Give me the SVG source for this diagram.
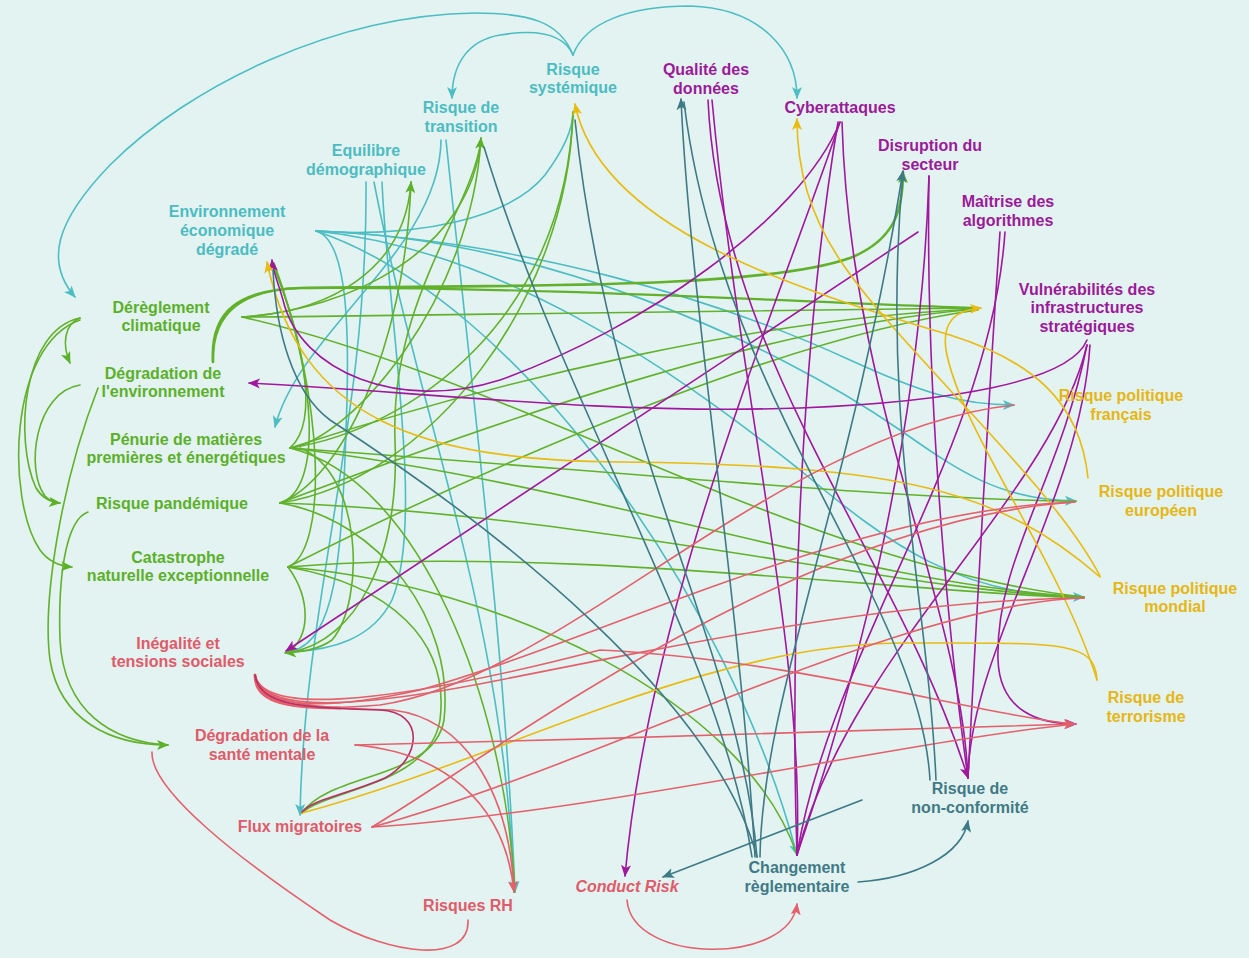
<svg xmlns="http://www.w3.org/2000/svg" width="1249" height="958" viewBox="0 0 1249 958">
<defs>
<style>
.c path{fill:none;stroke-width:1.6;stroke-linecap:round}
.t{stroke:#4dbdc4}.g{stroke:#62b12c}.p{stroke:#a0189e}.y{stroke:#e9ba10}.r{stroke:#e3606c}.s{stroke:#3e7a86}
text{font-family:"Liberation Sans",Arial,sans-serif;font-weight:bold;font-size:16px;text-anchor:middle}
.tt{fill:#4cbcc2}.tg{fill:#5bb02a}.tp{fill:#9c1a9a}.ty{fill:#e6b614}.tr{fill:#e05a6a}.ts{fill:#3f7a86}
</style>
<marker id="mt" viewBox="0 0 12 12" refX="11" refY="6" markerWidth="12" markerHeight="12" markerUnits="userSpaceOnUse" orient="auto"><path d="M0,1 L12,6 L0,11 L3,6 z" fill="#4dbdc4"/></marker>
<marker id="mg" viewBox="0 0 12 12" refX="11" refY="6" markerWidth="12" markerHeight="12" markerUnits="userSpaceOnUse" orient="auto"><path d="M0,1 L12,6 L0,11 L3,6 z" fill="#5bb02a"/></marker>
<marker id="mp" viewBox="0 0 12 12" refX="11" refY="6" markerWidth="12" markerHeight="12" markerUnits="userSpaceOnUse" orient="auto"><path d="M0,1 L12,6 L0,11 L3,6 z" fill="#a0189e"/></marker>
<marker id="my" viewBox="0 0 12 12" refX="11" refY="6" markerWidth="12" markerHeight="12" markerUnits="userSpaceOnUse" orient="auto"><path d="M0,1 L12,6 L0,11 L3,6 z" fill="#e9ba10"/></marker>
<marker id="mr" viewBox="0 0 12 12" refX="11" refY="6" markerWidth="12" markerHeight="12" markerUnits="userSpaceOnUse" orient="auto"><path d="M0,1 L12,6 L0,11 L3,6 z" fill="#e3606c"/></marker>
<marker id="ms" viewBox="0 0 12 12" refX="11" refY="6" markerWidth="12" markerHeight="12" markerUnits="userSpaceOnUse" orient="auto"><path d="M0,1 L12,6 L0,11 L3,6 z" fill="#3e7a86"/></marker>
</defs>
<rect width="1249" height="958" fill="#e3f3f1"/>
<g id="connectors" class="c">
<!-- teal -->
<path class="t" d="M573,55 C560,22 530,13 475,13 C335,15 190,85 110,165 C55,222 45,262 75,297" marker-end="url(#mt)"/>
<path class="t" d="M573,55 C562,30 530,30 500,35 C470,40 452,62 452,98" marker-end="url(#mt)"/>
<path class="t" d="M573,55 C585,22 630,6 690,6 C760,8 797,50 797,98" marker-end="url(#mt)"/>
<path class="t" d="M316,231 C420,238 510,218 545,175 C565,148 573,128 573,112"/>
<path class="t" d="M316,231 C520,240 720,300 850,360 C920,392 960,405 1014,405" marker-end="url(#mt)"/>
<path class="t" d="M316,231 C540,238 770,340 900,430 C960,472 1000,500 1076,501" marker-end="url(#mt)"/>
<path class="t" d="M316,231 C500,250 660,360 800,470 C890,545 960,597 1084,597" marker-end="url(#mt)"/>
<path class="t" d="M316,231 C348,240 350,330 346,430 C342,560 335,640 292,651"/>
<path class="t" d="M382,182 C388,320 425,520 392,600 C372,640 330,650 292,652"/>
<path class="t" d="M366,182 C368,420 304,600 300,815" marker-end="url(#mt)"/>
<path class="t" d="M374,182 C420,420 505,620 514,892"/>
<path class="t" d="M441,140 C440,250 300,330 275,427" marker-end="url(#mt)"/>
<path class="t" d="M446,140 C475,420 505,650 515,892" marker-end="url(#mt)"/>
<path class="t" d="M316,231 C520,300 730,600 797,855" marker-end="url(#mt)"/>
<!-- green -->
<path class="g" d="M80,318 C64,324 62,345 70,363" marker-end="url(#mg)"/>
<path class="g" d="M80,318 C22,330 14,440 36,488 C42,498 50,502 60,503" marker-end="url(#mg)"/>
<path class="g" d="M80,320 C8,345 6,500 40,550 C48,561 58,566 72,567" marker-end="url(#mg)"/>
<path class="g" d="M80,385 C35,392 25,470 45,496 C50,501 55,503 60,503"/>
<path class="g" d="M98,388 C62,480 42,600 50,660 C60,720 110,745 168,745" marker-end="url(#mg)"/>
<path class="g" d="M88,512 C65,520 58,580 60,640 C64,712 112,742 168,745"/>
<path class="g" d="M242,317 C500,316 760,310 978,308"/>
<path class="g" style="stroke-width:2.6" d="M213,362 C210,310 240,290 300,288 C500,285 760,290 850,258 C895,240 903,210 903,172" marker-end="url(#mg)"/>
<path class="g" style="stroke-width:2.2" d="M213,362 C212,310 245,290 300,288 C520,286 800,302 978,308"/>
<path class="g" d="M242,317 C330,312 405,270 411,182" marker-end="url(#mg)"/>
<path class="g" d="M242,317 C350,310 472,250 481,138" marker-end="url(#mg)"/>
<path class="g" d="M290,448 C350,440 472,300 481,138"/>
<path class="g" d="M290,448 C410,430 565,320 573,112"/>
<path class="g" d="M280,503 C430,480 568,300 573,112"/>
<path class="g" d="M280,503 C340,480 405,350 411,182"/>
<path class="g" d="M290,448 C500,380 760,318 978,309"/>
<path class="g" d="M280,503 C500,420 770,325 978,309"/>
<path class="g" d="M288,567 C500,460 790,335 978,310"/>
<path class="g" d="M290,448 C600,470 900,500 1076,501"/>
<path class="g" d="M290,448 C600,485 860,585 1084,597"/>
<path class="g" d="M280,503 C600,515 900,592 1084,597"/>
<path class="g" d="M242,317 C520,380 800,565 1084,597"/>
<path class="g" d="M288,567 C550,545 900,592 1084,598"/>
<path class="g" d="M288,567 C500,585 745,700 797,855"/>
<path class="g" d="M280,503 C380,520 455,620 444,720 C434,780 330,772 302,813"/>
<path class="g" d="M288,567 C390,585 450,640 440,720 C430,785 325,790 302,813"/>
<path class="g" d="M300,448 C362,472 366,600 332,640 C318,650 300,652 285,653" marker-end="url(#mg)"/>
<path class="g" d="M288,567 C312,600 310,640 287,652"/>
<path class="g" d="M290,448 C322,420 300,330 272,263"/>
<path class="g" d="M280,503 C322,490 318,380 273,263"/>
<path class="g" d="M288,567 C328,550 325,400 274,263"/>
<path class="g" d="M290,448 C420,480 505,700 515,892"/>
<path class="g" d="M292,652 C355,640 400,560 395,440 C390,300 472,210 481,140"/>
<!-- purple -->
<path class="p" d="M840,122 C800,220 640,330 500,380 C400,412 300,372 283,300 C279,285 273,272 272,260" marker-end="url(#mp)"/>
<path class="p" d="M1087,340 C1070,382 950,402 800,408 C600,415 400,390 249,383" marker-end="url(#mp)"/>
<path class="p" d="M918,232 L286,651" marker-end="url(#mp)"/>
<path class="p" d="M1087,345 C1060,480 995,560 998,660 C1000,712 1040,724 1076,724" marker-end="url(#mp)"/>
<path class="p" d="M708,100 C720,360 900,560 968,778" marker-end="url(#mp)"/>
<path class="p" d="M712,100 C740,400 805,650 797,855"/>
<path class="p" d="M842,122 C850,400 960,600 968,778"/>
<path class="p" d="M838,122 C800,350 790,650 797,855"/>
<path class="p" d="M840,122 C780,300 650,600 625,876" marker-end="url(#mp)"/>
<path class="p" d="M929,176 C925,400 950,650 968,778"/>
<path class="p" d="M929,176 C920,450 850,700 797,855"/>
<path class="p" d="M1000,232 C985,450 975,650 968,778"/>
<path class="p" d="M1005,232 C990,450 830,650 797,855"/>
<path class="p" d="M1087,345 C1050,500 850,650 797,855"/>
<path class="p" d="M1090,345 C1080,500 970,650 968,778"/>
<!-- yellow -->
<path class="y" d="M1088,478 C1080,400 1030,360 950,335 C800,290 600,230 575,104" marker-end="url(#my)"/>
<path class="y" d="M1100,576 C1050,480 900,350 840,260 C810,215 797,170 797,119" marker-end="url(#my)"/>
<path class="y" d="M1100,577 C1000,490 900,465 620,462 C420,460 300,420 267,262" marker-end="url(#my)"/>
<path class="y" d="M1097,680 C1060,560 960,430 946,350 C942,322 955,310 981,308" marker-end="url(#my)"/>
<path class="y" d="M1097,680 C1095,640 1060,643 900,643 C700,645 500,760 302,813"/>
<!-- red -->
<path class="r" style="stroke-width:3" d="M255,675 C255,700 280,708 340,708"/>
<path class="r" d="M255,675 C258,705 300,712 380,705 C560,680 780,430 1014,405"/>
<path class="r" d="M255,675 C260,708 320,712 420,690 C600,640 850,510 1075,502"/>
<path class="r" d="M255,675 C262,710 340,712 500,680 C700,640 900,600 1084,598"/>
<path class="r" d="M255,675 C262,710 360,712 600,650 C800,660 980,715 1075,724"/>
<path class="r" d="M255,675 C262,706 320,708 393,710 C470,720 510,800 514,892"/>
<path class="r" style="stroke:#b8306a" d="M255,675 C260,705 300,708 380,710 C425,712 422,758 385,778 C345,795 312,800 302,812"/>
<path class="r" d="M355,745 C600,740 900,728 1075,724" marker-end="url(#mr)"/>
<path class="r" d="M355,745 C440,752 505,800 514,892" marker-end="url(#mr)"/>
<path class="r" d="M372,827 C600,812 900,742 1075,724"/>
<path class="r" d="M372,827 C600,765 900,603 1084,598"/>
<path class="r" d="M372,827 C500,750 800,520 1075,502"/>
<path class="r" d="M468,920 C470,965 390,955 330,920 C240,860 150,790 152,752"/>
<path class="r" d="M627,900 C632,965 790,965 797,904" marker-end="url(#mr)"/>
<!-- slate -->
<path class="s" d="M858,882 C915,878 962,855 968,821" marker-end="url(#ms)"/>
<path class="s" d="M862,800 L663,877" marker-end="url(#ms)"/>
<path class="s" d="M755,857 C740,600 690,300 681,99" marker-end="url(#ms)"/>
<path class="s" d="M760,857 C762,700 850,500 903,171" marker-end="url(#ms)"/>
<path class="s" d="M752,857 C720,650 560,400 484,147"/>
<path class="s" d="M757,857 C740,650 610,450 575,120"/>
<path class="s" d="M757,857 C715,700 500,530 330,420 C292,392 276,330 273,270"/>
<path class="s" d="M930,780 C920,600 720,400 684,102"/>
<path class="s" d="M936,780 C928,600 880,420 903,172"/>
</g>
<g id="n-systemique"><text class="tt" x="573" y="75">Risque</text><text class="tt" x="573" y="93">systémique</text></g>
<g id="n-transition"><text class="tt" x="461" y="113">Risque de</text><text class="tt" x="461" y="132">transition</text></g>
<g id="n-demographique"><text class="tt" x="366" y="156">Equilibre</text><text class="tt" x="366" y="175">démographique</text></g>
<g id="n-eco"><text class="tt" x="227" y="217">Environnement</text><text class="tt" x="227" y="236">économique</text><text class="tt" x="227" y="255">dégradé</text></g>
<g id="n-donnees"><text class="tp" x="706" y="75">Qualité des</text><text class="tp" x="706" y="94">données</text></g>
<g id="n-cyber"><text class="tp" x="840" y="113">Cyberattaques</text></g>
<g id="n-disruption"><text class="tp" x="930" y="151">Disruption du</text><text class="tp" x="930" y="170">secteur</text></g>
<g id="n-algo"><text class="tp" x="1008" y="207">Maîtrise des</text><text class="tp" x="1008" y="226">algorithmes</text></g>
<g id="n-vulnerabilites"><text class="tp" x="1087" y="295">Vulnérabilités des</text><text class="tp" x="1087" y="313">infrastructures</text><text class="tp" x="1087" y="332">stratégiques</text></g>
<g id="n-rpf"><text class="ty" x="1121" y="401">Risque politique</text><text class="ty" x="1121" y="420">français</text></g>
<g id="n-rpe"><text class="ty" x="1161" y="497">Risque politique</text><text class="ty" x="1161" y="516">européen</text></g>
<g id="n-rpm"><text class="ty" x="1175" y="594">Risque politique</text><text class="ty" x="1175" y="612">mondial</text></g>
<g id="n-terrorisme"><text class="ty" x="1146" y="703">Risque de</text><text class="ty" x="1146" y="722">terrorisme</text></g>
<g id="n-nonconformite"><text class="ts" x="970" y="794">Risque de</text><text class="ts" x="970" y="813">non-conformité</text></g>
<g id="n-changement"><text class="ts" x="797" y="873">Changement</text><text class="ts" x="797" y="892">règlementaire</text></g>
<g id="n-conduct"><text class="tr" x="627" y="892" font-style="italic">Conduct Risk</text></g>
<g id="n-rh"><text class="tr" x="468" y="911">Risques RH</text></g>
<g id="n-flux"><text class="tr" x="300" y="832">Flux migratoires</text></g>
<g id="n-sante"><text class="tr" x="262" y="741">Dégradation de la</text><text class="tr" x="262" y="760">santé mentale</text></g>
<g id="n-inegalite"><text class="tr" x="178" y="649">Inégalité et</text><text class="tr" x="178" y="667">tensions sociales</text></g>
<g id="n-catastrophe"><text class="tg" x="178" y="563">Catastrophe</text><text class="tg" x="178" y="581">naturelle exceptionnelle</text></g>
<g id="n-pandemie"><text class="tg" x="172" y="509">Risque pandémique</text></g>
<g id="n-penurie"><text class="tg" x="186" y="445">Pénurie de matières</text><text class="tg" x="186" y="463">premières et énergétiques</text></g>
<g id="n-environnement"><text class="tg" x="163" y="379">Dégradation de</text><text class="tg" x="163" y="397">l'environnement</text></g>
<g id="n-climat"><text class="tg" x="161" y="313">Dérèglement</text><text class="tg" x="161" y="331">climatique</text></g>
</svg>
